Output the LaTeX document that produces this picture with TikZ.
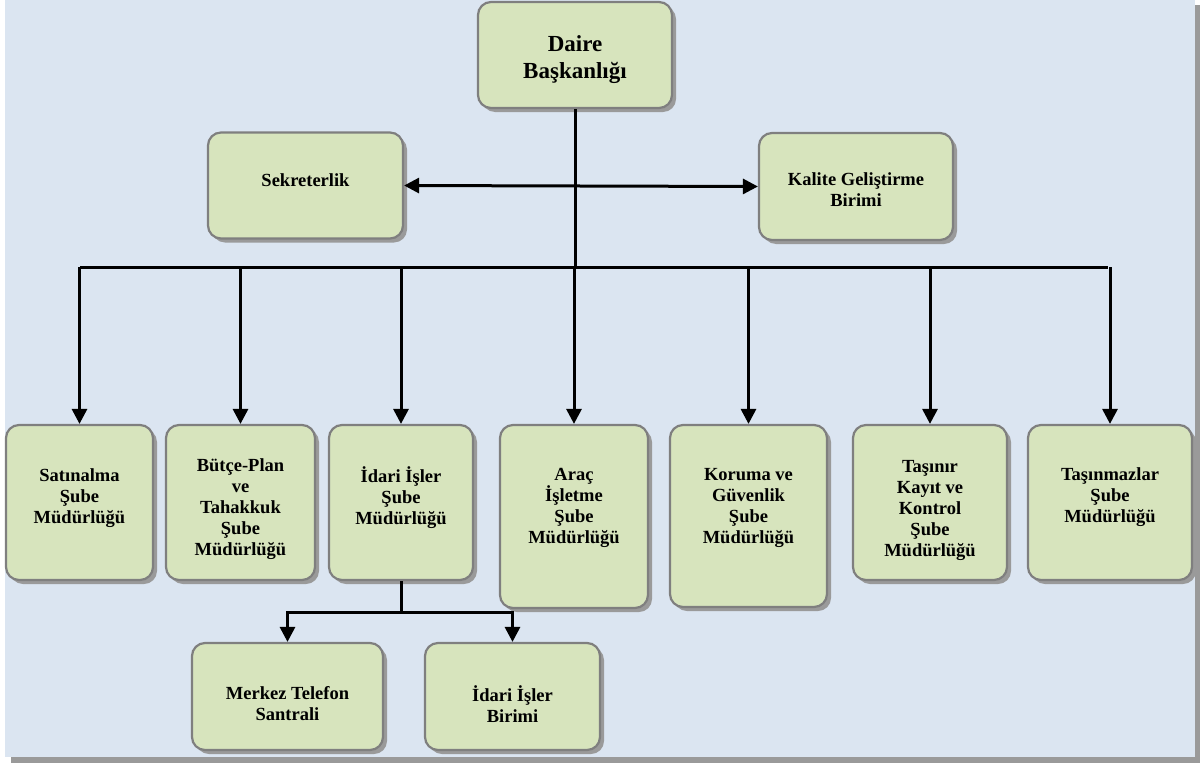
\documentclass[tikz,border=0pt]{standalone}
\usepackage{fontspec}
\setmainfont{Liberation Serif}
\usetikzlibrary{arrows.meta,shadows}
\definecolor{bgblue}{HTML}{DBE5F1}
\definecolor{boxgreen}{HTML}{D7E4BD}
\definecolor{boxborder}{HTML}{7F7F7F}
\definecolor{shadowgray}{HTML}{9A9A9A}
\tikzset{
  orgbox/.style={draw=boxborder, line width=2.2pt, fill=boxgreen, rounded corners=13pt,
    inner sep=0pt, copy shadow={fill=shadowgray, draw=none, shadow xshift=4pt, shadow yshift=-4pt}},
  lbl/.style={align=center, inner sep=0pt, font=\bfseries\fontsize{18.5}{21}\selectfont},
  biglbl/.style={align=center, inner sep=0pt, font=\bfseries\fontsize{23}{27}\selectfont},
  conn/.style={line width=3pt, black},
  arr/.style={conn, -{Triangle[length=15pt,width=15pt]}},
  darr/.style={conn, {Triangle[length=15pt,width=15pt]}-{Triangle[length=15pt,width=15pt]}},
}
\begin{document}
\begin{tikzpicture}[x=1pt,y=-1pt]
\useasboundingbox (0,0) rectangle (1200,763);
% page background with shadow
\fill[shadowgray] (11,5) rectangle (1200,763);
\fill[bgblue] (5,0) rectangle (1195,757);

% boxes
\node[orgbox, minimum width=194pt, minimum height=106pt] (dai) at (575,55) {};
\node[biglbl] (tdai) at (575,60) {Daire\\Başkanlığı};

\node[orgbox, minimum width=195pt, minimum height=106pt] (sek) at (305.5,185.5) {};
\node[lbl] (tsek) at (305.5,180) {Sekreterlik};

\node[orgbox, minimum width=194pt, minimum height=107pt] (kal) at (856,186.5) {};
\node[lbl] (tkal) at (856,190) {Kalite Geliştirme\\Birimi};

\node[orgbox, minimum width=147pt, minimum height=155pt] (b1) at (79.5,502.5) {};
\node[lbl] (t1) at (79.5,498) {Satınalma\\Şube\\Müdürlüğü};

\node[orgbox, minimum width=149pt, minimum height=155pt] (b2) at (240.5,502.5) {};
\node[lbl] (t2) at (240.5,509) {Bütçe-Plan\\ve\\Tahakkuk\\Şube\\Müdürlüğü};

\node[orgbox, minimum width=144pt, minimum height=155pt] (b3) at (401,502.5) {};
\node[lbl] (t3) at (401,498) {İdari İşler\\Şube\\Müdürlüğü};

\node[orgbox, minimum width=148pt, minimum height=183pt] (b4) at (574,516.5) {};
\node[lbl] (t4) at (574,508) {Araç\\İşletme\\Şube\\Müdürlüğü};

\node[orgbox, minimum width=157pt, minimum height=182pt] (b5) at (748.5,516) {};
\node[lbl] (t5) at (748.5,508) {Koruma ve\\Güvenlik\\Şube\\Müdürlüğü};

\node[orgbox, minimum width=154pt, minimum height=155pt] (b6) at (930,502.5) {};
\node[lbl] (t6) at (930,510) {Taşınır\\Kayıt ve\\Kontrol\\Şube\\Müdürlüğü};

\node[orgbox, minimum width=164pt, minimum height=155pt] (b7) at (1110,502.5) {};
\node[lbl] (t7) at (1110,497) {Taşınmazlar\\Şube\\Müdürlüğü};

\node[orgbox, minimum width=191pt, minimum height=107pt] (s1) at (287.5,696.5) {};
\node[lbl] (ts1) at (287.5,704) {Merkez Telefon\\Santrali};

\node[orgbox, minimum width=175pt, minimum height=107pt] (s2) at (512.5,696.5) {};
\node[lbl] (ts2) at (512.5,704) {İdari İşler\\Birimi};

% connectors
\coordinate (bar) at (575,267);
\coordinate (barL) at (80,267);
\coordinate (barR) at (1108,267);
\draw[conn] (dai.south) -- (bar);
\draw[darr] (sek.east) -- (kal.west);
\draw[conn] (barL) -- (barR);
\draw[arr] (b1.north |- bar) -- (b1.north);
\draw[arr] (b2.north |- bar) -- (b2.north);
\draw[arr] (b3.north |- bar) -- (b3.north);
\draw[arr] (b4.north |- bar) -- (b4.north);
\draw[arr] (b5.north |- bar) -- (b5.north);
\draw[arr] (b6.north |- bar) -- (b6.north);
\draw[arr] (b7.north |- bar) -- (b7.north);

\coordinate (sub) at (401,612);
\draw[conn] (b3.south) -- (sub);
\draw[arr] (sub) -| (s1.north);
\draw[arr] (sub) -| (s2.north);
\end{tikzpicture}
\end{document}
